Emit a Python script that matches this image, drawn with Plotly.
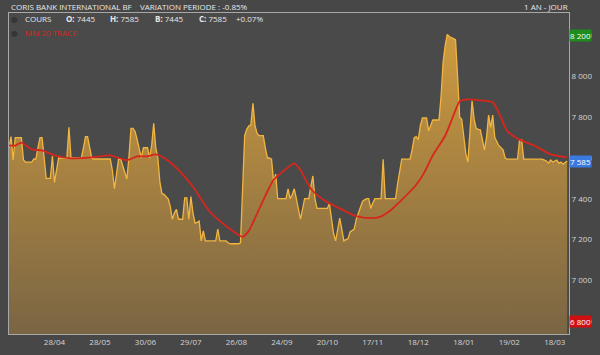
import plotly.graph_objects as go

# ---- data ----
price = [
    7650, 7705, 7590, 7700, 7700, 7700, 7700, 7590, 7580, 7580,
    7580, 7580, 7595, 7595, 7650, 7700, 7700, 7600, 7500, 7500,
    7500, 7610, 7480, 7540, 7600, 7600, 7600, 7600, 7600, 7750,
    7600, 7600, 7600, 7600, 7600, 7600, 7650, 7705, 7705, 7650,
    7600, 7595, 7595, 7595, 7595, 7595, 7595, 7595, 7595, 7595,
    7540, 7450, 7520, 7595, 7595, 7560, 7520, 7497, 7600, 7745,
    7745, 7730, 7690, 7640, 7600, 7650, 7650, 7650, 7600, 7660,
    7770, 7650, 7600, 7480, 7425, 7422, 7410, 7400, 7363, 7300,
    7330, 7348, 7300, 7300, 7300, 7405, 7405, 7300, 7411, 7330,
    7281, 7285, 7291, 7194, 7243, 7194, 7194, 7194, 7194, 7194,
    7194, 7252, 7194, 7194, 7194, 7194, 7185, 7180, 7180, 7180,
    7180, 7180, 7185, 7450, 7709, 7740, 7757, 7762, 7868, 7760,
    7720, 7709, 7709, 7709, 7650, 7600, 7600, 7594, 7483, 7521,
    7401, 7401, 7401, 7401, 7401, 7449, 7401, 7420, 7449, 7401,
    7350, 7300, 7350, 7401, 7401, 7401, 7460, 7512, 7401, 7353,
    7353, 7353, 7353, 7353, 7353, 7377, 7300, 7230, 7194, 7260,
    7305, 7250, 7194, 7200, 7204, 7238, 7245, 7252, 7300, 7330,
    7360, 7387, 7395, 7401, 7401, 7353, 7380, 7401, 7401, 7401,
    7401, 7594, 7401, 7401, 7401, 7401, 7401, 7401, 7473, 7530,
    7594, 7594, 7594, 7594, 7594, 7640, 7699, 7705, 7690, 7760,
    7796, 7796, 7796, 7733, 7760, 7786, 7786, 7786, 7786, 7900,
    8070, 8150, 8205, 8195, 8190, 8185, 8180, 8000, 7800, 7790,
    7700, 7620, 7580, 7720, 7880, 7790, 7745, 7740, 7738, 7690,
    7640, 7700, 7810, 7750, 7810, 7700, 7680, 7660, 7650, 7640,
    7600, 7594, 7594, 7594, 7594, 7594, 7594, 7690, 7690, 7594,
    7594, 7594, 7594, 7594, 7594, 7594, 7594, 7594, 7594, 7590,
    7585, 7575, 7590, 7580, 7585, 7590, 7575, 7580, 7570, 7579, 7585,
]

ma_idx = [0, 3, 6, 11, 16, 22, 30, 40, 49, 57, 62, 67, 71, 76, 83, 89, 97, 105,
          113, 116, 122, 128, 134, 138, 141, 146, 152, 160, 168, 175, 179, 184,
          190, 197, 201, 205, 211, 216, 218, 222, 228, 234, 237, 241, 247, 254,
          262, 270]
ma_val = [7661, 7661, 7675, 7642, 7637, 7613, 7598, 7603, 7613, 7589, 7608, 7608,
          7618, 7594, 7531, 7459, 7339, 7267, 7214, 7243, 7372, 7493, 7546, 7574,
          7541, 7449, 7396, 7353, 7315, 7305, 7310, 7339, 7395, 7469, 7531, 7613,
          7709, 7834, 7877, 7887, 7882, 7873, 7820, 7733, 7690, 7661, 7618, 7603]

x_labels = ["28/04", "28/05", "30/06", "29/07", "26/08", "24/09", "20/10",
            "17/11", "18/12", "18/01", "19/02", "18/03"]
tick_first, tick_step = 22, 22

y_ticks = [6800, 7000, 7200, 7400, 7600, 7800, 8000, 8200]
y_min, y_max = 6738, 8310

title = "CORIS BANK INTERNATIONAL BF"
variation = "VARIATION PERIODE : -0.85%"
period = "1 AN - JOUR"
ohlc = [("O:", "7445"), ("H:", "7585"), ("B:", "7445"), ("C:", "7585")]
change = "+0.07%"
ma_name = "MM 20 TRACE"

# ---- figure ----
W, H = 600, 355
ml, mr, mt, mb = 8, 23, 13, 15
pw, ph = W - ml - mr, H - mt - mb


def px(x):
    return (x - ml) / pw


def py(y):
    return (H - mb - y) / ph


xs = list(range(len(price)))
fig = go.Figure()
fig.add_trace(go.Scatter(
    x=xs, y=price, mode="lines",
    line=dict(color="#f2b640", width=1.3),
    fill="tozeroy",
    fillgradient=dict(type="vertical",
                      colorscale=[[0, "rgb(120,100,68)"], [1, "rgb(212,158,62)"]],
                      start=y_min, stop=y_max),
    hoverinfo="skip", showlegend=False,
))
fig.add_trace(go.Scatter(
    x=ma_idx, y=ma_val, mode="lines", line=dict(color="#d8261c", width=1.8, shape="spline", smoothing=0.6),
    hoverinfo="skip", showlegend=False,
))

tickvals = [tick_first + k * tick_step for k in range(len(x_labels))]
font = "Open Sans, DejaVu Sans, sans-serif"
fig.update_layout(
    width=W, height=H, margin=dict(l=ml, r=mr, t=mt, b=mb),
    paper_bgcolor="#474747", plot_bgcolor="#4a4a4a",
    font=dict(family=font, size=8, color="#dcdcdc"),
    xaxis=dict(range=[0, len(price) - 0.1], tickvals=tickvals, ticktext=x_labels,
               showgrid=False, zeroline=False, showline=True, mirror=True,
               linecolor="#a8a8a8", linewidth=1, ticks="",
               tickfont=dict(size=8, color="#d4d4d4")),
    yaxis=dict(range=[y_min, y_max], side="right", tickvals=y_ticks,
               ticktext=[f"{v:,}".replace(",", " ") for v in y_ticks],
               showgrid=False, zeroline=False, showline=True, mirror=True,
               linecolor="#a8a8a8", linewidth=1, ticks="",
               tickfont=dict(size=8, color="#d4d4d4")),
)

ann = []
# header
ann.append(dict(x=px(8), y=py(6), xref="paper", yref="paper", text=title,
                showarrow=False, xanchor="left", yanchor="middle",
                font=dict(size=8, color="#e8e8e8")))
ann.append(dict(x=px(139), y=py(6), xref="paper", yref="paper", text=variation,
                showarrow=False, xanchor="left", yanchor="middle",
                font=dict(size=8, color="#e8e8e8")))
ann.append(dict(x=px(578), y=py(6), xref="paper", yref="paper", text=period,
                showarrow=False, xanchor="right", yanchor="middle",
                font=dict(size=8, color="#e8e8e8")))
# legend rows
for yy in (19, 33):
    ann.append(dict(x=px(14), y=py(yy), xref="paper", yref="paper", text="●",
                    showarrow=False, xanchor="center", yanchor="middle",
                    font=dict(size=8, color="#363636")))
ann.append(dict(x=px(22), y=py(19), xref="paper", yref="paper", text="COURS",
                showarrow=False, xanchor="left", yanchor="middle",
                font=dict(size=8, color="#e8e8e8")))
ox = [64, 109, 154, 199]
for (k, v), xx in zip(ohlc, ox):
    ann.append(dict(x=px(xx), y=py(19), xref="paper", yref="paper",
                    text=f"<b>{k}</b> {v}", showarrow=False, xanchor="left",
                    yanchor="middle", font=dict(size=8, color="#e8e8e8")))
ann.append(dict(x=px(237), y=py(19), xref="paper", yref="paper", text=change,
                showarrow=False, xanchor="left", yanchor="middle",
                font=dict(size=8, color="#e8e8e8")))
ann.append(dict(x=px(22), y=py(33), xref="paper", yref="paper", text=ma_name,
                showarrow=False, xanchor="left", yanchor="middle",
                font=dict(size=8, color="#d8261c")))
# highlighted axis labels
def tag(yv, bg):
    return dict(x=1, y=yv, xref="paper", yref="y", text=f"{yv:,}".replace(",", " "),
                showarrow=False, xanchor="left", yanchor="middle", bgcolor=bg,
                width=21, height=11, borderpad=0, align="center",
                font=dict(size=8, color="#ffffff"))
ann.append(tag(max(y_ticks), "#1e8c1e"))
ann.append(tag(min(y_ticks), "#d01010"))
ann.append(tag(price[-1], "#3a7ae0"))
fig.update_layout(annotations=ann)

fig.write_html("out.html")
